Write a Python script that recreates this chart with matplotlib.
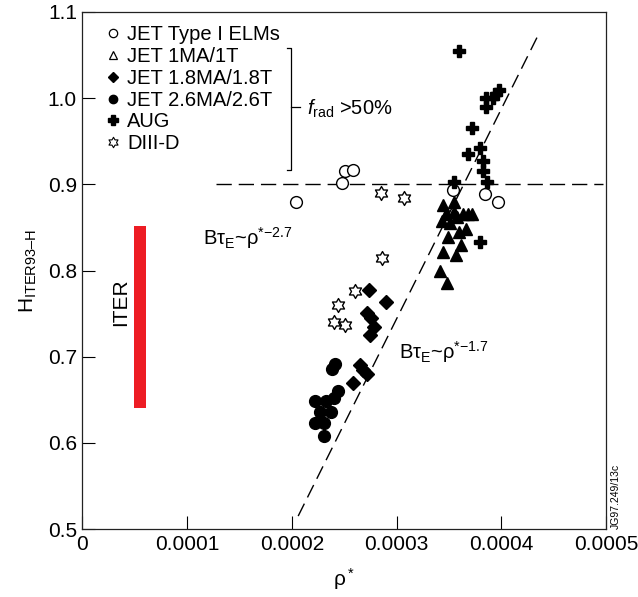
import numpy as np
import matplotlib
matplotlib.use("Agg")
import matplotlib.pyplot as plt
from matplotlib.path import Path
from matplotlib.lines import Line2D

plt.rcParams['font.family'] = ['Liberation Sans', 'DejaVu Sans']
plt.rcParams['mathtext.fontset'] = 'custom'
plt.rcParams['mathtext.rm'] = 'Liberation Sans'
plt.rcParams['mathtext.it'] = 'Liberation Sans:italic'
plt.rcParams['mathtext.bf'] = 'Liberation Sans:bold'

# data (rho* in units of 1e-4, H factor)
elm_x = [2.04, 2.48, 2.51, 2.58, 3.54, 3.84, 3.97]
elm_y = [0.880, 0.901, 0.915, 0.917, 0.893, 0.889, 0.880]

ma1_x = [3.44, 3.55, 3.43, 3.51, 3.49, 3.44, 3.57, 3.41, 3.48, 3.58, 3.63,
         3.68, 3.72, 3.60, 3.66, 3.62, 3.55, 3.47]
ma1_y = [0.876, 0.880, 0.857, 0.855, 0.839, 0.822, 0.818, 0.800, 0.785, 0.862,
         0.866, 0.866, 0.865, 0.845, 0.848, 0.830, 0.868, 0.866]

ma18_x = [2.74, 2.90, 2.72, 2.76, 2.78, 2.75, 2.65, 2.68, 2.72, 2.58]
ma18_y = [0.777, 0.764, 0.751, 0.745, 0.735, 0.725, 0.690, 0.685, 0.680, 0.669]

ma26_x = [2.41, 2.38, 2.44, 2.40, 2.33, 2.22, 2.27, 2.37, 2.22, 2.31, 2.31]
ma26_y = [0.692, 0.686, 0.660, 0.652, 0.649, 0.649, 0.636, 0.636, 0.623, 0.623, 0.608]

aug_x = [3.60, 3.85, 3.85, 3.92, 3.95, 3.98, 3.72, 3.68, 3.80, 3.83, 3.83,
         3.86, 3.55, 3.80]
aug_y = [1.055, 0.990, 1.000, 1.000, 1.005, 1.010, 0.965, 0.935, 0.942, 0.927,
         0.915, 0.903, 0.903, 0.833]

d3d_x = [2.85, 3.07, 2.86, 2.60, 2.44, 2.40, 2.51]
d3d_y = [0.890, 0.884, 0.814, 0.776, 0.760, 0.740, 0.737]

fit_x = [2.06, 4.36]
fit_y = [0.515, 1.075]
hline_x = [1.275, 4.97]
hline_y = [0.9, 0.9]

iter_x = [0.493, 0.602]
iter_y = [0.640, 0.852]

xticks = [0, 1, 2, 3, 4, 5]
xticklabels = ['0', '0.0001', '0.0002', '0.0003', '0.0004', '0.0005']
yticks = [0.5, 0.6, 0.7, 0.8, 0.9, 1.0, 1.1]

# six pointed star marker
ang_o = np.deg2rad(90 + 60 * np.arange(6))
ang_i = np.deg2rad(120 + 60 * np.arange(6))
verts = []
for a, b in zip(ang_o, ang_i):
    verts.append((np.cos(a), np.sin(a)))
    verts.append((np.cos(b) / np.sqrt(3), np.sin(b) / np.sqrt(3)))
verts.append(verts[0])
star = Path(verts, closed=True)

fig = plt.figure(figsize=(6.38, 5.97), dpi=100)
ax = fig.add_axes([0.1293, 0.1139, 0.8205, 0.866])

# lines
ax.plot(fit_x, fit_y, color='black', lw=1.0, dashes=(10, 5))
ax.plot(hline_x, hline_y, color='black', lw=1.0, dashes=(11, 5))

# ITER bar
ax.fill_between(iter_x, iter_y[0], iter_y[1], color='#ed1c24', lw=0)

ms = 8.5
ax.plot(elm_x, elm_y, 'o', ms=ms, mfc='white', mec='black', mew=1.0, ls='none', zorder=3)
ax.plot(ma1_x, ma1_y, '^', ms=ms + 0.5, color='black', ls='none', zorder=3)
ax.plot(ma18_x, ma18_y, 'D', ms=7.2, color='black', ls='none', zorder=3)
ax.plot(ma26_x, ma26_y, 'o', ms=ms, color='black', ls='none', zorder=3)
ax.plot(aug_x, aug_y, 'P', ms=ms, color='black', ls='none', zorder=4)
ax.plot(d3d_x, d3d_y, marker=star, ms=10, mfc='white', mec='black', mew=1.0,
        ls='none', zorder=3)

ax.set_xlim(0, 5)
ax.set_ylim(0.5, 1.1)
ax.set_xticks(xticks)
ax.set_xticklabels(xticklabels)
ax.set_yticks(yticks)
ax.set_yticklabels(['%.1f' % v for v in yticks])
ax.tick_params(direction='in', length=9.5, width=0.8, labelsize=15, pad=4,
               top=False, right=False)
for s in ax.spines.values():
    s.set_linewidth(0.9)
    s.set_color('#222222')

ax.set_xlabel(r'$\mathregular{ρ^*}$', fontsize=15, labelpad=9)
ax.set_ylabel(r'$\mathregular{H_{ITER93–H}}$', fontsize=15, labelpad=6)

# legend
handles = [
    Line2D([], [], marker='o', ls='none', ms=6, mfc='white', mec='black', mew=0.9),
    Line2D([], [], marker='^', ls='none', ms=6, mfc='white', mec='black', mew=0.9),
    Line2D([], [], marker='D', ls='none', ms=5.5, color='black'),
    Line2D([], [], marker='o', ls='none', ms=6, color='black'),
    Line2D([], [], marker='P', ls='none', ms=6.5, color='black'),
    Line2D([], [], marker=star, ls='none', ms=7.5, mfc='white', mec='black', mew=0.8),
]
labels = ['JET Type I ELMs', 'JET 1MA/1T', 'JET 1.8MA/1.8T', 'JET 2.6MA/2.6T',
          'AUG', 'DIII-D']
ax.legend(handles, labels, loc='upper left', bbox_to_anchor=(0.02, 0.998),
          frameon=False, fontsize=14.5, labelspacing=0.14, handlelength=0.8,
          handletextpad=0.3, borderaxespad=0.2)

# bracket
bx, bt, bb = 0.398, 0.930, 0.694
ax.plot([bx - 0.008, bx, bx, bx - 0.008], [bt, bt, bb, bb], color='black',
        lw=0.9, transform=ax.transAxes)
ax.plot([bx, bx + 0.017], [0.816, 0.816], color='black', lw=0.9,
        transform=ax.transAxes)
ax.text(bx + 0.030, 0.812, r'$f_{\rm rad}$ >50%', fontsize=14.5,
        transform=ax.transAxes, va='center', ha='left')

ax.text(1.15, 0.838, r'Bτ$_\mathregular{E}$~ρ$^\mathregular{*{−}2.7}$', fontsize=14.5,
        va='center', ha='left')
ax.text(3.02, 0.705, r'Bτ$_\mathregular{E}$~ρ$^\mathregular{*{−}1.7}$', fontsize=14.5,
        va='center', ha='left')
ax.text(0.36, 0.763, 'ITER', fontsize=15, rotation=90, va='center', ha='center')
ax.text(1.01, 0.0, 'JG97.249/13c', fontsize=7.5, rotation=90, va='bottom',
        ha='left', transform=ax.transAxes)

fig.savefig('out.png', dpi=100)
